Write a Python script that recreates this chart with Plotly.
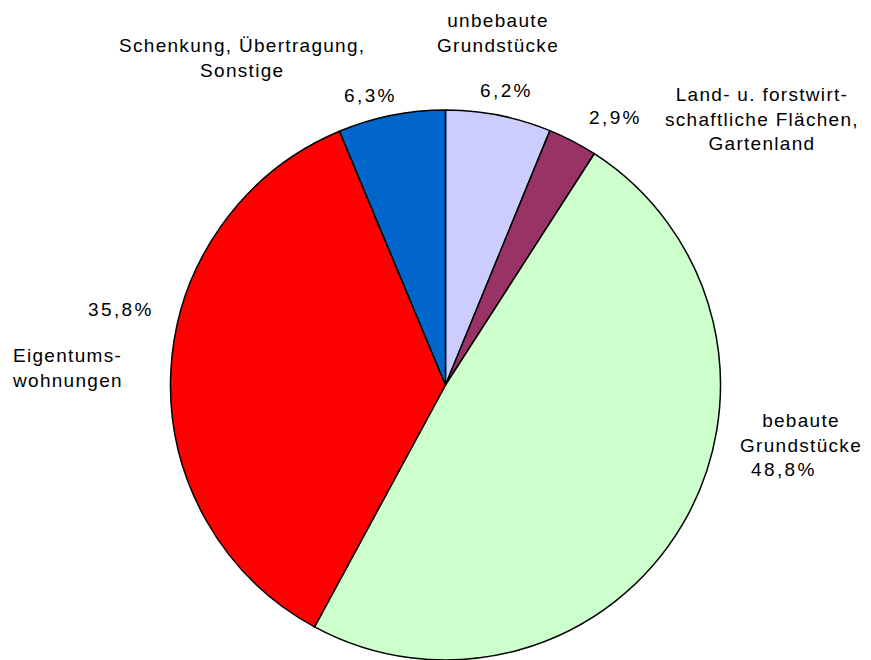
import plotly.graph_objects as go

# Kategorien im Uhrzeigersinn ab 12 Uhr
labels = [
    "unbebaute<br>Grundstücke",
    "Land- u. forstwirt-<br>schaftliche Flächen,<br>Gartenland",
    "bebaute<br>Grundstücke",
    "Eigentums-<br>wohnungen",
    "Schenkung, Übertragung,<br>Sonstige",
]
values = [6.2, 2.9, 48.8, 35.8, 6.3]
colors = ["#CCCCFF", "#993366", "#CCFFCC", "#FF0000", "#0066CC"]

W, H = 871, 660
OFF = 8  # Rand des Seiten-Body im Browser
cx, cy, r = 445.5, 385, 275

# Positionen der Beschriftungen (Pixel im Bild): Name und Prozentwert
name_pos = [(498, 33), (762, 119), (801, 433), (67, 368), (242, 58)]
pct_pos = [(506, 91), (615, 118), (784, 469), (121, 309), (370, 96)]


def px2paper(x, y):
    return (x - OFF) / W, 1 - (y - OFF) / H


def spaced(t, ls=1.3):
    return "<br>".join(f'<span style="letter-spacing:{ls}px">{p}</span>' for p in t.split("<br>"))


x0, y1 = px2paper(cx - r, cy - r)
x1, y0 = px2paper(cx + r, cy + r)

fig = go.Figure(go.Pie(
    labels=labels,
    values=values,
    sort=False,
    direction="clockwise",
    rotation=0,
    textinfo="none",
    hoverinfo="label+percent",
    marker=dict(colors=colors, line=dict(color="black", width=1.5)),
    domain=dict(x=[x0, x1], y=[y0, y1]),
    showlegend=False,
))

font = dict(family="Liberation Sans, Arial, sans-serif", size=19, color="black")
for lab, v, (nx, ny), (px_, py_) in zip(labels, values, name_pos, pct_pos):
    ax, ay = px2paper(nx, ny)
    fig.add_annotation(x=ax, y=ay, xref="paper", yref="paper",
                       text=spaced(lab), showarrow=False, font=font,
                       xanchor="center", yanchor="middle",
                       align="left" if lab.startswith("Eigentums") else "center")
    ax, ay = px2paper(px_, py_)
    fig.add_annotation(x=ax, y=ay, xref="paper", yref="paper",
                       text=spaced(f"{v:.1f}%".replace(".", ","), 2.4), showarrow=False, font=font,
                       xanchor="center", yanchor="middle")

fig.update_layout(
    width=W, height=H,
    margin=dict(l=0, r=0, t=0, b=0),
    paper_bgcolor="white",
    plot_bgcolor="white",
)
fig.write_html("out.html")
